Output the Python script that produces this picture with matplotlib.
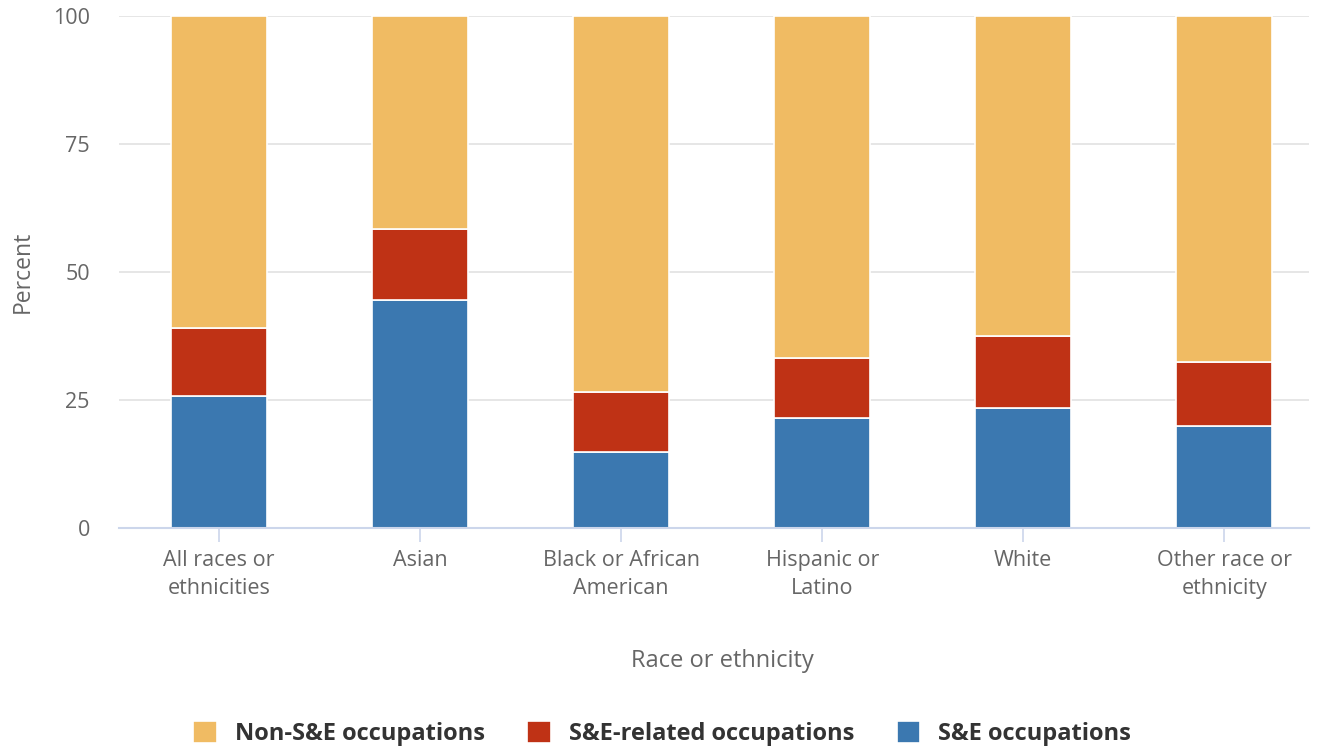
import matplotlib
matplotlib.use('Agg')
import matplotlib.pyplot as plt
import numpy as np

plt.rcParams['font.family'] = ['Open Sans', 'DejaVu Sans']

categories = ["All races or\nethnicities", "Asian", "Black or African\nAmerican",
              "Hispanic or\nLatino", "White", "Other race or\nethnicity"]
se_occ = [25.8, 44.5, 14.8, 21.5, 23.4, 19.9]
se_related = [13.3, 13.9, 11.8, 11.7, 14.1, 12.5]
non_se = [100 - a - b for a, b in zip(se_occ, se_related)]

c_blue = '#3b78b0'
c_red = '#bf3215'
c_yellow = '#f0bb63'

fig = plt.figure(figsize=(13.27, 7.48), dpi=100)
ax = fig.add_axes([0.0897, 0.294, 0.897, 0.685])

x = np.arange(len(categories))
w = 0.477
b1 = ax.bar(x, se_occ, w, color=c_blue, edgecolor='white', linewidth=1.2, zorder=3)
b2 = ax.bar(x, se_related, w, bottom=se_occ, color=c_red, edgecolor='white', linewidth=1.2, zorder=3)
bottom2 = [a + b for a, b in zip(se_occ, se_related)]
b3 = ax.bar(x, non_se, w, bottom=bottom2, color=c_yellow, edgecolor='white', linewidth=1.2, zorder=3)

ax.set_xlim(-0.497, 5.4225)
ax.set_ylim(0, 100)
ax.set_yticks([0, 25, 50, 75, 100])
ax.grid(axis='y', color='#e6e6e6', linewidth=1.4, zorder=0)
for s in ['top', 'right', 'left']:
    ax.spines[s].set_visible(False)
ax.spines['bottom'].set_color('#ccd6eb')
ax.spines['bottom'].set_linewidth(1.5)
ax.spines['bottom'].set_zorder(4)
ax.tick_params(axis='y', length=0, labelsize=15.5, labelcolor='#666666', pad=21)
ax.tick_params(axis='x', length=10, width=1.2, color='#ccd6eb', labelsize=15.5,
               labelcolor='#666666', pad=5.5)
ax.set_xticks(x)
ax.set_xticklabels(categories, linespacing=1.48)

ax.set_ylabel("Percent", fontsize=16.5, color='#666666')
ax.yaxis.set_label_coords(-0.071, 0.5)
fig.text(722 / 1327, (748 - 661) / 748, "Race or ethnicity",
         fontsize=17, color='#666666', ha='center', va='center')

leg = fig.legend([b3[0], b2[0], b1[0]],
                 ["Non-S&E occupations", "S&E-related occupations", "S&E occupations"],
                 loc='center', bbox_to_anchor=(0.499, 0.019), ncol=3, frameon=False,
                 prop={'weight': 'bold', 'size': 17}, handlelength=1.0, handleheight=1.0,
                 columnspacing=1.8, handletextpad=0.76)
for t in leg.get_texts():
    t.set_color('#333333')

fig.savefig('out.png', dpi=100)
